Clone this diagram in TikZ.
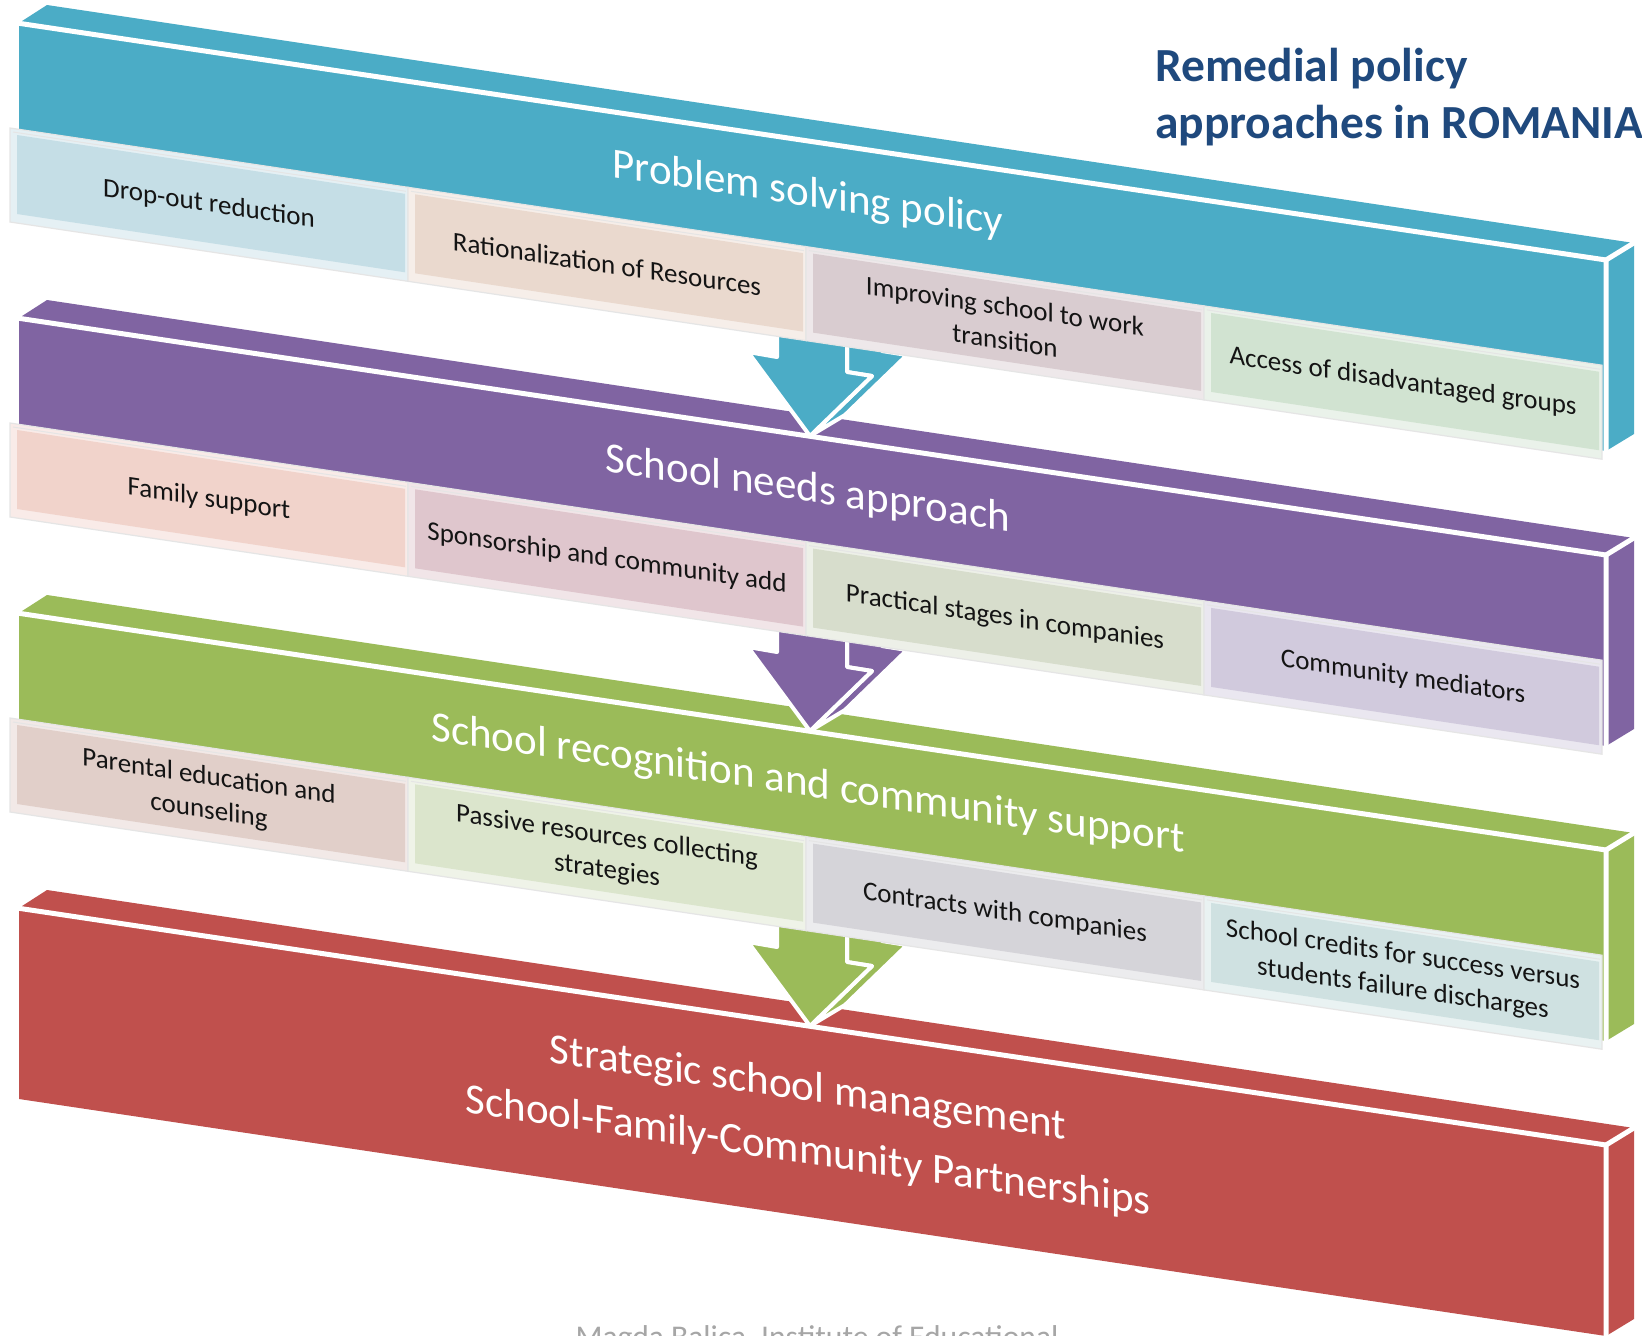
\documentclass[tikz,border=0pt]{standalone}
\usepackage{fontspec}
\setmainfont{Carlito}
\definecolor{barA}{HTML}{4BACC6}
\definecolor{barB}{HTML}{8064A2}
\definecolor{barC}{HTML}{9BBB59}
\definecolor{barD}{HTML}{C0504D}
\definecolor{ttl}{HTML}{1F497D}
\definecolor{foot}{HTML}{A6A6A6}
\definecolor{cAa}{HTML}{C5DEE6}
\definecolor{cAb}{HTML}{EAD9CE}
\definecolor{cAc}{HTML}{D9CCD0}
\definecolor{cAd}{HTML}{D1E3D1}
\definecolor{cBa}{HTML}{F1D3CB}
\definecolor{cBb}{HTML}{DFC6CD}
\definecolor{cBc}{HTML}{D7DDCC}
\definecolor{cBd}{HTML}{D1CADD}
\definecolor{cCa}{HTML}{E1CFC9}
\definecolor{cCb}{HTML}{DBE5CC}
\definecolor{cCc}{HTML}{D5D4D9}
\definecolor{cCd}{HTML}{CFE1E1}

% 3D bar: #1 = y of front top-left, #2 = colour
\newcommand\mybox[2]{%
  \pgfmathsetmacro\bya{#1-4}%
  \pgfmathsetmacro\byb{#1+233}%
  \pgfmathsetmacro\byc{#1+424}%
  \pgfmathsetmacro\byd{#1+187}%
  \fill[#2] (19,\bya) -- (1606,\byb) -- (1606,\byc) -- (19,\byd) -- cycle;
  \fill[#2] (19,\bya) -- (47,\bya-18) -- (1634,\byb-17) -- (1606,\byb) -- cycle;
  \fill[#2] (1606,\byb) -- (1634,\byb-17) -- (1634,\byc-17) -- (1606,\byc) -- cycle;
  \draw[edgeline] (17,\bya) -- (1606,\byb) -- (1606,\byc+2);
  \draw[edgeline] (1606,\byb) -- (1637,\byb-19);
}
% 3D arrow: #1 = vertical offset, #2 = colour
\newcommand\myarrow[2]{%
  \begin{scope}[shift={(0,#1)}]
    \filldraw[fill=#2, arrowline] (847,300) -- (847,372) -- (872,376) -- (810,436) -- (845,415) -- (907,355) -- (882,351) -- (882,300) -- cycle;
    \filldraw[fill=#2, arrowline] (777,300) -- (777,357) -- (748,352) -- (810,436) -- (872,376) -- (847,372) -- (847,300) -- cycle;
  \end{scope}
}
% cell: #1 = bar y, #2 = index, #3 = colour, #4 = node name, #5 = text
\newcommand\mycell[5]{%
  \pgfmathsetmacro\cxl{10+398*(#2-1)}%
  \pgfmathsetmacro\cxr{\cxl+398}%
  \pgfmathsetmacro\cyl{#1+101+0.149*(\cxl-10)}%
  \pgfmathsetmacro\cyr{#1+101+0.149*(\cxr-10)}%
  \filldraw[fill=#3!45!white, draw=black!10, line width=1.2pt] (\cxl,\cyl) -- (\cxr,\cyr) -- (\cxr,\cyr+94) -- (\cxl,\cyl+94) -- cycle;
  \fill[#3] (\cxl+7,\cyl+7) -- (\cxr-3,\cyr+6.5) -- (\cxr-3,\cyr+85) -- (\cxl+7,\cyl+86) -- cycle;
  \draw[white!90!black, line width=1pt] (\cxl+3,\cyl+4) -- (\cxr-2,\cyr+4);
  \pgfmathsetmacro\cxc{\cxl+199}%
  \pgfmathsetmacro\cyc{#1+148+0.149*(\cxc-10)}%
  \node[celltext] (#4) at (\cxc,\cyc) {#5};
}

\begin{document}
\begin{tikzpicture}[x=1pt,y=-1pt,
  edgeline/.style={draw=white, line width=5pt},
  arrowline/.style={draw=white, line width=4pt, line join=round},
  barlabel/.style={text=white, font=\fontsize{43}{63}\selectfont, yslant=-0.149, align=center, inner sep=0pt},
  celltext/.style={text=black!92, font=\fontsize{27}{34}\selectfont, yslant=-0.149, align=center, inner sep=0pt},
  titletext/.style={text=ttl, font=\bfseries\fontsize{47.5}{57}\selectfont, anchor=base west, inner sep=0pt},
]
\useasboundingbox (0,0) rectangle (1642,1336);
\clip (0,0) rectangle (1642,1336);
\fill[white] (0,0) rectangle (1642,1336);

% bars
\mybox{912}{barD}
\mybox{617}{barC}
\mybox{322}{barB}
\mybox{27}{barA}

% arrows
\myarrow{0}{barA}
\myarrow{295}{barB}
\myarrow{590}{barC}

% cells, bar 1
\mycell{27}{1}{cAa}{a1}{Drop-out reduction}
\mycell{27}{2}{cAb}{a2}{Rationalization of Resources}
\mycell{27}{3}{cAc}{a3}{Improving school to work\\transition}
\mycell{27}{4}{cAd}{a4}{Access of disadvantaged groups}
% cells, bar 2
\mycell{322}{1}{cBa}{b1}{Family support}
\mycell{322}{2}{cBb}{b2}{Sponsorship and community add}
\mycell{322}{3}{cBc}{b3}{Practical stages in companies}
\mycell{322}{4}{cBd}{b4}{Community mediators}
% cells, bar 3
\mycell{617}{1}{cCa}{c1}{Parental education and\\counseling}
\mycell{617}{2}{cCb}{c2}{Passive resources collecting\\strategies}
\mycell{617}{3}{cCc}{c3}{Contracts with companies}
\mycell{617}{4}{cCd}{c4}{School credits for success versus\\students failure discharges}

% bar labels
\node[barlabel] (lab1) at (808,195) {Problem solving policy};
\node[barlabel] (lab2) at (808,490) {School needs approach};
\node[barlabel] (lab3) at (808,785) {School recognition and community support};
\node[barlabel] (lab4) at (808,1121) {Strategic school management\\School-Family-Community Partnerships};

% title
\node[titletext] (title1) at (1155,81) {Remedial policy};
\node[titletext] (title2) at (1155,138) {approaches in ROMANIA};

% footer
\node[text=foot, font=\fontsize{31.6}{38}\selectfont, anchor=base, inner sep=0pt] (foot) at (817,1347) {Magda Balica, Institute of Educational};
\end{tikzpicture}
\end{document}
